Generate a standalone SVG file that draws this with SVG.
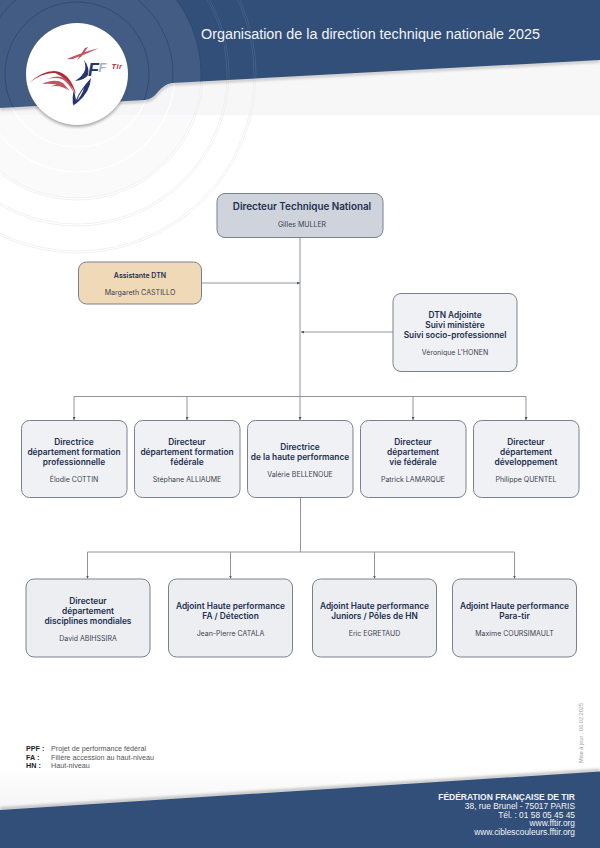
<svg xmlns="http://www.w3.org/2000/svg" width="600" height="848" viewBox="0 0 600 848">
<defs>
<style>
.b{fill:#f0f1f4;stroke:#7a8090;stroke-width:1}
.r3{fill:#eceef2}
.c{fill:none;stroke:#8f94a3;stroke-width:1}
.t{font-family:Inter,"Liberation Sans",sans-serif;font-weight:600;font-size:8.350px;fill:#23304f;text-anchor:middle}
.n{font-family:Inter,"Liberation Sans",sans-serif;font-weight:400;font-size:7px;fill:#3c4250;text-anchor:middle}
.f{font-family:"Liberation Sans",Arial,sans-serif;font-size:8.400px;fill:#f2f4f8;text-anchor:end}
.l{font-family:"Liberation Sans",Arial,sans-serif;font-size:7.200px;fill:#555}
.lb{font-weight:700;fill:#222}
.rd{fill:none;stroke:#2a4570;stroke-width:.8;opacity:.9}
.rl{fill:none;stroke:#ededf0;stroke-width:.8}
.rw{fill:none;stroke:#fff;stroke-width:1.2}
.rh{fill:none;stroke:#fff;stroke-width:.6;opacity:.15}
.lg{font-family:"Liberation Sans",sans-serif;font-weight:700;font-style:italic}
</style>
<marker id="a" markerWidth="3" markerHeight="3" refX="3" refY="1.5" orient="auto" markerUnits="userSpaceOnUse"><path d="M0 0L3 1.5L0 3Z" fill="#4b5264"/></marker>
<linearGradient id="g2" x1="0" y1="0" x2="0" y2="1"><stop offset="0" stop-color="#fff"/><stop offset="1" stop-color="#f4f4f6"/></linearGradient>
<clipPath id="hc"><path d="M0 108L145 100Q152 99 157 93Q164 84 172 83L600 60V0H0Z"/></clipPath>
<filter id="s" x="-20%" y="-20%" width="140%" height="140%"><feGaussianBlur stdDeviation="1.5"/></filter>
</defs>
<rect width="600" height="848" fill="#fff"/>
<g id="background">
<rect x="0" y="60" width="600" height="55" fill="#f7f7f8"/>
<rect x="0" y="765" width="600" height="50" fill="url(#g2)"/>
<circle cx="77" cy="74" r="124" fill="#f5f5f7" opacity=".5"/>
<circle cx="77" cy="74" r="73" class="rw"/>
<circle cx="77" cy="74" r="98" class="rw"/>
<circle cx="77" cy="74" r="124" class="rl"/>
<circle cx="77" cy="74" r="126" class="rl"/>
<circle cx="77" cy="74" r="150" class="rl"/>
<circle cx="77" cy="74" r="152" class="rl"/>
<circle cx="77" cy="74" r="177" class="rl"/>
<circle cx="77" cy="74" r="179" class="rl"/>
<path d="M0 108L145 100Q152 99 157 93Q164 84 172 83L600 60" fill="none" stroke="#555" stroke-width="2" opacity=".45" filter="url(#s)" transform="translate(0 1)"/>
<path d="M0 108L145 100Q152 99 157 93Q164 84 172 83L600 60V0H0Z" fill="#324f79"/>
<g clip-path="url(#hc)">
<circle cx="77" cy="74" r="124" fill="#fff" opacity=".08"/>
<circle cx="77" cy="74" r="72" class="rd"/>
<circle cx="77" cy="74" r="96" class="rd"/>
<circle cx="77" cy="74" r="124" class="rd" opacity=".5"/>
<circle cx="77" cy="74" r="150" class="rh"/>
<circle cx="77" cy="74" r="152" class="rh"/>
<circle cx="77" cy="74" r="177" class="rh"/>
<circle cx="77" cy="74" r="179" class="rh"/>
</g>
<path d="M0 810L600 771.500" stroke="#555" stroke-width="2.500" opacity=".45" filter="url(#s)" transform="translate(0 -1)"/>
<path d="M0 810L600 771.500V848H0Z" fill="#324f79"/>
</g>
<g id="logo">
<circle cx="77" cy="76" r="51" fill="#555" opacity=".5" filter="url(#s)"/>
<circle cx="77" cy="74" r="51" fill="#fff"/>
<path d="M29 83Q42 71 54 71Q70 72 76 94Q68 78 55 73Q43 72 29 83Z" fill="#b3293a"/>
<path d="M47 79Q58 74 66 79Q71 83 74 93Q68 82 62 79Q55 77 47 79ZM42 84Q55 78 63 83L70 91Q60 82 42 84ZM50 87Q58 83 62 85L69 91Q60 84 50 87Z" fill="#c4525f"/>
<path d="M67 59Q80 53 99 48Q84 55 75 58Q72 60 67 59ZM77 60L85 48L88 47L82 56Z" fill="#c4525f"/>
<path d="M84 60Q90 68 88 75Q85 80 75 81Q83 76 85 70Q86 66 84 60Z" fill="#26346f"/>
<path d="M91 78Q90 92 78 102L73 106Q83 94 84 88Q78 96 77 102L73 105Q72 96 74 90L76 100Q80 90 91 78Z" fill="#26346f"/>
<text x="88" y="76" class="lg" font-size="18" fill="#26346f">F</text>
<text x="98.500" y="72" class="lg" font-size="13" fill="#a9b1c6">F</text>
<text x="111.500" y="69" class="lg" font-size="7.500" letter-spacing=".5" fill="#b3293a">Tir</text>
</g>
<text id="title" x="201" y="39" font-family="'Liberation Sans',Arial,sans-serif" font-size="14.350" fill="#f2f4f8">Organisation de la direction technique nationale 2025</text>
<g id="connectors" class="c">
<path d="M300 238V420" marker-end="url(#a)"/>
<path d="M201 283H300" marker-end="url(#a)"/>
<path d="M393 332H301" marker-end="url(#a)"/>
<path d="M74 396.500H526"/>
<path d="M74 396.500V420" marker-end="url(#a)"/>
<path d="M187 396.500V420" marker-end="url(#a)"/>
<path d="M413 396.500V420" marker-end="url(#a)"/>
<path d="M526 396.500V420" marker-end="url(#a)"/>
<path d="M300.500 497V552"/>
<path d="M87.500 552H514.500"/>
<path d="M87.500 552V578.500" marker-end="url(#a)"/>
<path d="M230.500 552V578.500" marker-end="url(#a)"/>
<path d="M374.500 552V578.500" marker-end="url(#a)"/>
<path d="M514.500 552V578.500" marker-end="url(#a)"/>
</g>
<g id="n-dtn"><rect x="217" y="193.500" width="166" height="44" rx="8" class="b" style="fill:#ced3dc"/><text x="302" y="210" class="t" style="font-size:9.850px">Directeur Technique National</text><text x="302" y="227" class="n">Gilles MULLER</text></g>
<g id="n-assist"><rect x="78.500" y="262" width="123" height="42" rx="8" class="b" style="fill:#f0d9b6"/><text x="140" y="278" class="t" style="font-size:7px">Assistante DTN</text><text x="140" y="295" class="n" style="font-size:7.100px">Margareth CASTILLO</text></g>
<g id="n-adj"><rect x="393" y="293.500" width="124" height="78" rx="8" class="b"/><text x="455" y="317.700" class="t">DTN Adjointe</text><text x="455" y="328" class="t">Suivi ministère</text><text x="455" y="338.300" class="t">Suivi socio-professionnel</text><text x="455" y="355" class="n">Véronique L'HONEN</text></g>
<g id="n-form-pro"><rect x="21.500" y="420.500" width="105.500" height="77" rx="8" class="b"/><text x="74" y="444.500" class="t">Directrice</text><text x="74" y="455" class="t">département formation</text><text x="74" y="465.300" class="t">professionnelle</text><text x="74" y="482" class="n">Élodie COTTIN</text></g>
<g id="n-form-fed"><rect x="134.500" y="420.500" width="105.500" height="77" rx="8" class="b"/><text x="187" y="444.500" class="t">Directeur</text><text x="187" y="455" class="t">département formation</text><text x="187" y="465.300" class="t">fédérale</text><text x="187" y="482" class="n">Stéphane ALLIAUME</text></g>
<g id="n-hp"><rect x="247.500" y="420.500" width="105.500" height="77" rx="8" class="b"/><text x="300" y="449.700" class="t">Directrice</text><text x="300" y="460" class="t">de la haute performance</text><text x="300" y="477" class="n">Valérie BELLENOUE</text></g>
<g id="n-vie"><rect x="360.500" y="420.500" width="105.500" height="77" rx="8" class="b"/><text x="413" y="444.500" class="t">Directeur</text><text x="413" y="455" class="t">département</text><text x="413" y="465.300" class="t">vie fédérale</text><text x="413" y="482" class="n">Patrick LAMARQUE</text></g>
<g id="n-dev"><rect x="473.500" y="420.500" width="105.500" height="77" rx="8" class="b"/><text x="526" y="444.500" class="t">Directeur</text><text x="526" y="455" class="t">département</text><text x="526" y="465.300" class="t">développement</text><text x="526" y="482" class="n">Philippe QUENTEL</text></g>
<g id="n-disc"><rect x="26" y="579" width="124" height="78" rx="8" class="b r3"/><text x="88" y="603.500" class="t">Directeur</text><text x="88" y="613.800" class="t">département</text><text x="88" y="624" class="t">disciplines mondiales</text><text x="88" y="641" class="n">David ABIHSSIRA</text></g>
<g id="n-fa"><rect x="168.500" y="579" width="124" height="78" rx="8" class="b r3"/><text x="230.500" y="608.500" class="t">Adjoint Haute performance</text><text x="230.500" y="618.800" class="t">FA / Détection</text><text x="230.500" y="636" class="n">Jean-Pierre CATALA</text></g>
<g id="n-jun"><rect x="312.500" y="579" width="124" height="78" rx="8" class="b r3"/><text x="374.500" y="608.500" class="t">Adjoint Haute performance</text><text x="374.500" y="618.800" class="t">Juniors / Pôles de HN</text><text x="374.500" y="636" class="n">Eric EGRETAUD</text></g>
<g id="n-para"><rect x="452.500" y="579" width="124" height="78" rx="8" class="b r3"/><text x="514.500" y="608.500" class="t">Adjoint Haute performance</text><text x="514.500" y="618.800" class="t">Para-tir</text><text x="514.500" y="636" class="n">Maxime COURSIMAULT</text></g>
<g id="legend">
<text x="26" y="751" class="l lb">PPF :</text><text x="51" y="751" class="l">Projet de performance fédéral</text>
<text x="26" y="759.500" class="l lb">FA :</text><text x="51" y="759.500" class="l">Filière accession au haut-niveau</text>
<text x="26" y="768" class="l lb">HN :</text><text x="51" y="768" class="l">Haut-niveau</text>
</g>
<text id="maj" transform="translate(583 763) rotate(-90)" font-family="'Liberation Sans',Arial,sans-serif" font-size="5.600" fill="#9a9a9a">Mise à jour : 06.02.2025</text>
<g id="footer">
<text x="575" y="800" class="f" style="font-weight:700;font-size:8.500px">FÉDÉRATION FRANÇAISE DE TIR</text>
<text x="575" y="808.800" class="f">38, rue Brunel - 75017 PARIS</text>
<text x="575" y="817.500" class="f">Tél. : 01 58 05 45 45</text>
<text x="575" y="826.300" class="f">www.fftir.org</text>
<text x="575" y="835" class="f">www.ciblescouleurs.fftir.org</text>
</g>
</svg>
